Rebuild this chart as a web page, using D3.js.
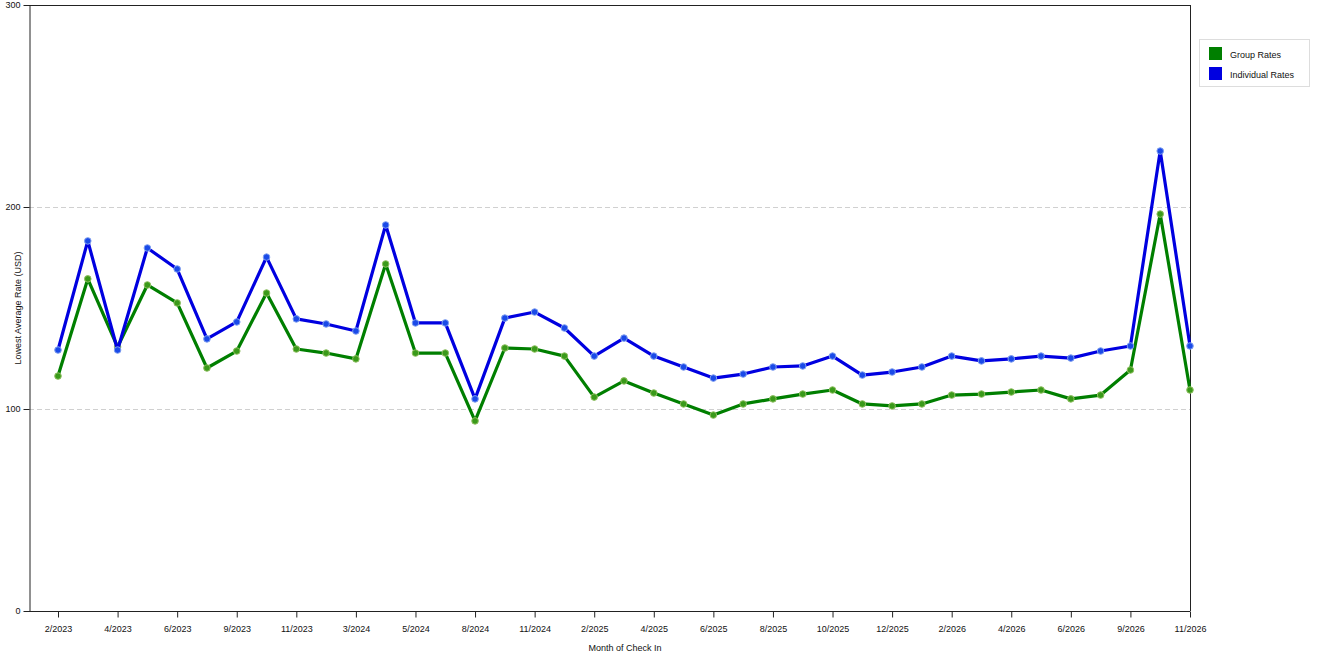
<!DOCTYPE html>
<html>
<head>
<meta charset="utf-8">
<script src="https://cdn.jsdelivr.net/npm/d3@7"></script>
<style>
  body { margin: 0; background: #fff; }
  svg { font-family: "Liberation Sans", Arial, sans-serif; }
</style>
</head>
<body>
<svg id="chart" width="1320" height="660"></svg>
<script>
// months of check in (only every other one gets a label)
var months = ["2/2023","3/2023","4/2023","5/2023","6/2023","8/2023","9/2023","10/2023","11/2023","12/2023",
  "3/2024","4/2024","5/2024","7/2024","8/2024","10/2024","11/2024","1/2025","2/2025","3/2025",
  "4/2025","5/2025","6/2025","7/2025","8/2025","9/2025","10/2025","11/2025","12/2025","1/2026",
  "2/2026","3/2026","4/2026","5/2026","6/2026","8/2026","9/2026","10/2026","11/2026"];

var groupRates = [116.3,164.4,130.7,161.4,152.5,120.3,128.7,157.4,129.7,127.7,
  124.8,171.8,127.7,127.7,94.1,130.2,129.7,126.2,105.9,113.9,
  107.9,102.5,97,102.5,105,107.4,109.4,102.5,101.5,102.5,
  106.9,107.4,108.4,109.4,105,106.9,119.3,196.5,109.4];

var individualRates = [129.2,183.2,129.2,179.7,169.3,134.7,143.1,175.2,144.6,142.1,
  138.6,191.1,142.6,142.6,105,145,148,140.1,126.2,135.1,
  126.2,120.8,115.3,117.3,120.8,121.3,126.2,116.8,118.3,120.8,
  126.2,123.8,124.8,126.2,125.2,128.7,131.2,227.7,131.2];

var yTicks = [0, 100, 200, 300];

var series = [
  {name: "Group Rates", values: groupRates, color: "#007f00", dot: "#3a9a1a", dotStroke: "#8fbf60"},
  {name: "Individual Rates", values: individualRates, color: "#0000e0", dot: "#1a4ae8", dotStroke: "#7f9ff0"}
];

var svg = d3.select("#chart");
var plotLeft = 29, plotRight = 1190, plotTop = 5, plotBottom = 611;

var x = d3.scalePoint().domain(months).range([58, plotRight]);
var y = d3.scaleLinear().domain([0, 300]).range([plotBottom, plotTop]);

// grid lines
svg.append("g").selectAll("line")
  .data([100, 200]).enter()
  .append("line")
  .attr("x1", plotLeft).attr("x2", plotRight)
  .attr("y1", function(d) { return y(d) + 0.5; })
  .attr("y2", function(d) { return y(d) + 0.5; })
  .attr("stroke", "#d0d0d0")
  .attr("stroke-dasharray", "5,3");

// frame
svg.append("line").attr("x1", plotLeft).attr("x2", plotRight).attr("y1", plotTop + 0.5).attr("y2", plotTop + 0.5).attr("stroke", "#222");
svg.append("line").attr("x1", plotRight + 0.5).attr("x2", plotRight + 0.5).attr("y1", plotTop).attr("y2", plotBottom).attr("stroke", "#222");

// y axis
var yAxis = d3.axisLeft(y).tickValues(yTicks).tickSize(6).tickPadding(3).tickSizeOuter(0);
var gy = svg.append("g").attr("transform", "translate(" + (plotLeft + 0.5) + ",0)").call(yAxis);
gy.select(".domain").attr("stroke", "#222");
gy.selectAll(".tick line").attr("stroke", "#222");
gy.selectAll("text").attr("font-size", 9).attr("fill", "#111").attr("font-family", "Liberation Sans, Arial, sans-serif");

// x axis
var xAxis = d3.axisBottom(x)
  .tickValues(months.filter(function(d, i) { return i % 2 == 0; }))
  .tickSize(6).tickPadding(8).tickSizeOuter(0);
var gx = svg.append("g").attr("transform", "translate(0," + (plotBottom + 0.5) + ")").call(xAxis);
gx.select(".domain").attr("d", "M" + plotLeft + ",0H" + plotRight).attr("stroke", "#222");
gx.selectAll(".tick line").attr("stroke", "#222");
gx.selectAll("text").attr("font-size", 9).attr("fill", "#111").attr("font-family", "Liberation Sans, Arial, sans-serif");

// axis titles
svg.append("text").attr("x", 625).attr("y", 651).attr("text-anchor", "middle")
  .attr("font-size", 9).attr("fill", "#111").text("Month of Check In");
svg.append("text").attr("transform", "translate(21,308) rotate(-90)").attr("text-anchor", "middle")
  .attr("font-size", 9).attr("fill", "#111").text("Lowest Average Rate (USD)");

// lines + dots
var line = d3.line()
  .x(function(d, i) { return x(months[i]); })
  .y(function(d) { return y(d); });

series.forEach(function(s) {
  svg.append("path")
    .datum(s.values)
    .attr("fill", "none")
    .attr("stroke", s.color)
    .attr("stroke-width", 3.2)
    .attr("stroke-linejoin", "round")
    .attr("d", line);

  svg.append("g").selectAll("circle")
    .data(s.values).enter()
    .append("circle")
    .attr("cx", function(d, i) { return x(months[i]); })
    .attr("cy", function(d) { return y(d); })
    .attr("r", 3.3)
    .attr("fill", s.dot)
    .attr("stroke", s.dotStroke)
    .attr("stroke-width", 1);
});

// legend
var legend = svg.append("g");
legend.append("rect").attr("x", 1199.5).attr("y", 39.5).attr("width", 110).attr("height", 47)
  .attr("fill", "#fff").attr("stroke", "#ddd");
series.forEach(function(s, i) {
  legend.append("rect").attr("x", 1209).attr("y", 47 + i * 20).attr("width", 13).attr("height", 13)
    .attr("fill", s.color);
  legend.append("text").attr("x", 1230).attr("y", 57.5 + i * 20)
    .attr("font-size", 9).attr("fill", "#111").text(s.name);
});
</script>
</body>
</html>
